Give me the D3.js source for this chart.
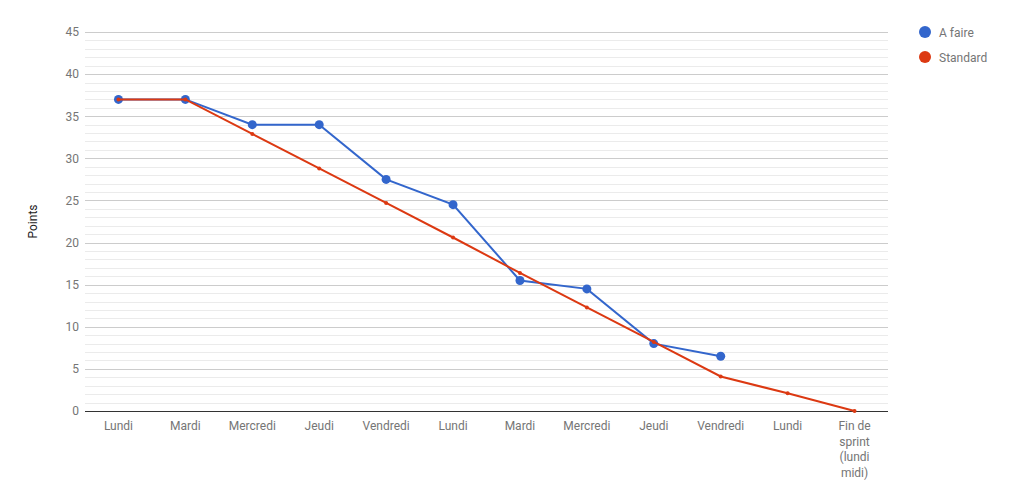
<!DOCTYPE html>
<html><head><meta charset="utf-8">
<script src="https://cdn.jsdelivr.net/npm/d3@7"></script>
<style>body{margin:0;background:#fff}svg text{font-family:Roboto,Arial,sans-serif}</style>
</head><body><svg id="c" width="1014" height="503"></svg>
<script>
const categories = ["Lundi","Mardi","Mercredi","Jeudi","Vendredi","Lundi","Mardi","Mercredi","Jeudi","Vendredi","Lundi","Fin de sprint (lundi midi)"];
const categoryLines = [["Lundi"],["Mardi"],["Mercredi"],["Jeudi"],["Vendredi"],["Lundi"],["Mardi"],["Mercredi"],["Jeudi"],["Vendredi"],["Lundi"],["Fin de","sprint","(lundi","midi)"]];
const aFaire = [37, 37, 34, 34, 27.5, 24.5, 15.5, 14.5, 8, 6.5];
const standard = [37, 37, 32.9, 28.8, 24.7, 20.6, 16.4, 12.3, 8.2, 4.1, 2.1, 0];
const yTicks = [0,5,10,15,20,25,30,35,40,45];
const seriesNames = ["A faire","Standard"];
const colors = ["#3366cc","#dc3912"];

const svg = d3.select("#c");
const L = 85, R = 888, T = 32, B = 411;
const x = d3.scaleBand().domain(d3.range(categories.length)).range([L, R]);
const y = d3.scaleLinear().domain([0,45]).range([B, T]);
const cx = i => x(i) + x.bandwidth()/2;

// minor gridlines
svg.append("g").selectAll("line").data(d3.range(0,46,1).filter(v => v%5!==0)).join("line")
  .attr("x1",L).attr("x2",R).attr("y1",d=>Math.round(y(d))+0.5).attr("y2",d=>Math.round(y(d))+0.5)
  .attr("stroke","#ebebeb").attr("stroke-width",1);
// major gridlines
svg.append("g").selectAll("line").data(yTicks.filter(v=>v>0)).join("line")
  .attr("x1",L).attr("x2",R).attr("y1",d=>Math.round(y(d))+0.5).attr("y2",d=>Math.round(y(d))+0.5)
  .attr("stroke","#cccccc").attr("stroke-width",1);

// y axis labels
const yAxis = d3.axisLeft(y).tickValues(yTicks).tickSize(0).tickPadding(6);
const gy = svg.append("g").attr("transform",`translate(${L},0)`).call(yAxis);
gy.select(".domain").remove();
gy.selectAll("text").attr("fill","#757575").attr("font-size",12).attr("font-family","Roboto");

// x axis labels
const xAxis = d3.axisBottom(x).tickSize(0).tickFormat(()=> "");
const gx = svg.append("g").attr("transform",`translate(0,${B})`).call(xAxis);
gx.select(".domain").remove();
gx.selectAll(".tick").each(function(d){
  const t = d3.select(this).append("text").attr("fill","#757575").attr("font-size",12).attr("text-anchor","middle").attr("y",19);
  categoryLines[d].forEach((s,k)=> t.append("tspan").attr("x",0).attr("dy",k===0?0:15.5).text(s));
});

// baseline
svg.append("line").attr("x1",L).attr("x2",R).attr("y1",B+0.5).attr("y2",B+0.5).attr("stroke","#333").attr("stroke-width",1);

// y title
svg.append("text").attr("transform",`translate(37,${(T+B)/2}) rotate(-90)`).attr("text-anchor","middle")
  .attr("font-size",12).attr("fill","#222").text("Points");

const line = d3.line().x((d,i)=>cx(i)).y(d=>y(d));
// series A faire
svg.append("path").datum(aFaire).attr("d",line).attr("fill","none").attr("stroke",colors[0]).attr("stroke-width",2);
svg.append("g").selectAll("circle").data(aFaire).join("circle").attr("cx",(d,i)=>cx(i)).attr("cy",d=>y(d)).attr("r",4.5).attr("fill",colors[0]);
// series Standard
svg.append("path").datum(standard).attr("d",line).attr("fill","none").attr("stroke",colors[1]).attr("stroke-width",2);
svg.append("g").selectAll("circle").data(standard).join("circle").attr("cx",(d,i)=>cx(i)).attr("cy",d=>y(d)).attr("r",2).attr("fill",colors[1]);

// legend
const lg = svg.append("g").selectAll("g").data(seriesNames).join("g").attr("transform",(d,i)=>`translate(925,${32+i*25})`);
lg.append("circle").attr("r",6).attr("fill",(d,i)=>colors[i]);
lg.append("text").attr("x",14).attr("y",4.5).attr("font-size",12).attr("fill","#757575").text(d=>d);
</script></body></html>
